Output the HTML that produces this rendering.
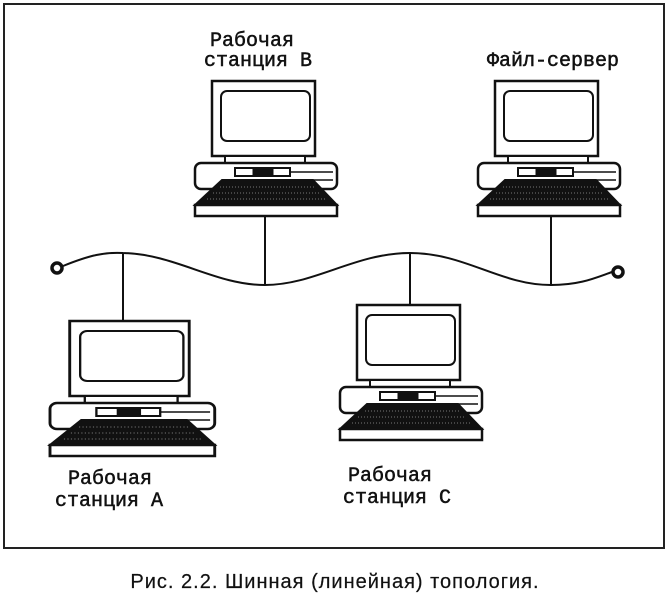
<!DOCTYPE html>
<html><head><meta charset="utf-8"><style>
body{margin:0;background:#fff;width:669px;height:600px;overflow:hidden}
svg{position:absolute;left:0;top:0}
text{font-family:"Liberation Mono","DejaVu Sans Mono",monospace;font-size:20px;fill:#111;stroke:#111;stroke-width:0.5}
</style></head><body>
<svg width="669" height="600" viewBox="0 0 669 600">
<defs>
<g id="pc" stroke="#111" fill="#fff">
<rect x="17" y="1" width="103" height="75" stroke-width="2.5"/>
<rect x="26" y="11" width="89" height="50" rx="6" stroke-width="2"/>
<rect x="30" y="76" width="80" height="7" stroke-width="2"/>
<rect x="0" y="83" width="142" height="26" rx="6" stroke-width="2.5"/>
<rect x="40" y="88" width="55" height="8" stroke-width="2"/>
<rect x="58" y="88" width="20" height="8" fill="#111"/>
<line x1="95" y1="92" x2="138" y2="92" stroke-width="1.5"/>
<line x1="95" y1="100" x2="138" y2="100" stroke-width="1.5"/>
<polygon points="27,100 118,100 142,125 0,125" fill="#111" stroke-width="2"/>
<line x1="25" y1="107" x2="120" y2="107" stroke="#777" stroke-dasharray="1 2"/>
<line x1="18" y1="113" x2="124" y2="113" stroke="#777" stroke-dasharray="1 2"/>
<line x1="12" y1="119" x2="130" y2="119" stroke="#777" stroke-dasharray="1 2"/>
<rect x="0" y="125" width="142" height="11" stroke-width="2.5"/>
</g>
</defs>
<rect x="4" y="4" width="660" height="544" fill="none" stroke="#222" stroke-width="2"/>
<g stroke="#111" stroke-width="2" fill="none">
<path d="M63,266 C90,255 105,252 123,253 C175,254 215,285 265,285 C315,285 355,253 410,253 C465,253 500,285 551,285 C580,285 595,278 612,272"/>
<line x1="123" y1="253" x2="123" y2="322"/>
<line x1="265" y1="215" x2="265" y2="285"/>
<line x1="410" y1="253" x2="410" y2="305"/>
<line x1="551" y1="215" x2="551" y2="285"/>
<circle cx="57" cy="268" r="5" stroke-width="3.5"/>
<circle cx="618" cy="272" r="5" stroke-width="3.5"/>
</g>
<use href="#pc" transform="translate(195,80)"/>
<use href="#pc" transform="translate(478,80)"/>
<use href="#pc" transform="translate(50,320) scale(1.16,1.0)"/>
<use href="#pc" transform="translate(340,304)"/>
<text x="210" y="46">Рабочая</text>
<text x="204" y="66">станция B</text>
<text x="487" y="66">Файл-сервер</text>
<text x="68" y="484">Рабочая</text>
<text x="55" y="506">станция A</text>
<text x="348" y="481">Рабочая</text>
<text x="343" y="503">станция C</text>
<text x="335" y="588" text-anchor="middle" style="font-family:'Liberation Sans',sans-serif;font-size:20px;letter-spacing:1px;stroke-width:0.2">Рис. 2.2. Шинная (линейная) топология.</text>
</svg>
</body></html>
